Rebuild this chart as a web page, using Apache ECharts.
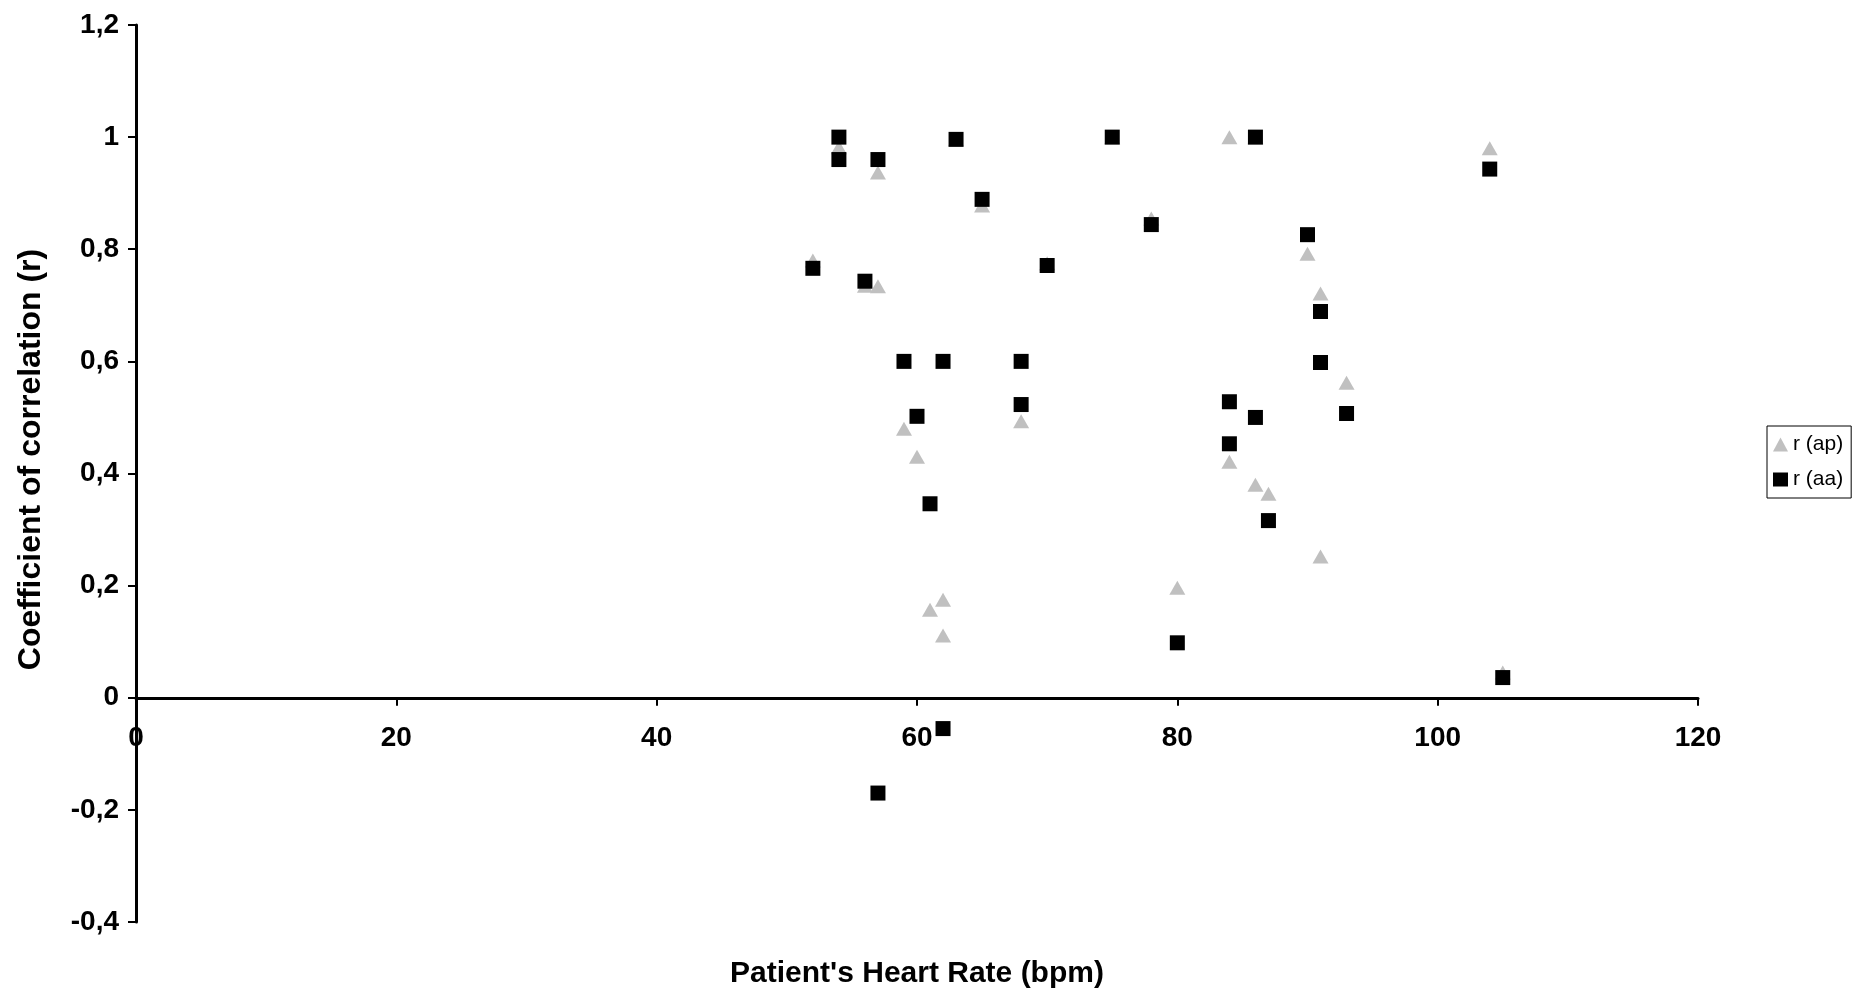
<!DOCTYPE html>
<html>
<head>
<meta charset="utf-8">
<title>Coefficient of correlation vs heart rate</title>
<script src="https://cdn.jsdelivr.net/npm/echarts@6/dist/echarts.min.js"></script>
<style>
  html, body { margin: 0; padding: 0; background: #fff; }
  #main { width: 1865px; height: 1001px; }
</style>
</head>
<body>
<div id="main"></div>
<script>
// r (ap) - grey triangles
const hrAP = [52, 54, 56, 57, 57, 59, 60, 61, 62, 62, 63, 65, 68, 70, 75, 78, 80, 84, 84, 86, 86, 87, 90, 91, 91, 93, 104, 105];
const rAP = [0.78, 0.982, 0.735, 0.937, 0.734, 0.480, 0.430, 0.157, 0.175, 0.111, 0.996, 0.878, 0.493, 0.775, 1.0, 0.855, 0.196, 1.0, 0.421, 1.0, 0.380, 0.364, 0.792, 0.721, 0.252, 0.562, 0.980, 0.045];

// r (aa) - black squares
const hrAA = [52, 54, 54, 56, 57, 57, 59, 60, 61, 62, 62, 63, 65, 68, 68, 70, 75, 78, 80, 84, 84, 86, 86, 87, 90, 91, 91, 93, 104, 105];
const rAA = [0.766, 1.0, 0.960, 0.743, 0.960, -0.170, 0.600, 0.502, 0.346, 0.600, -0.055, 0.996, 0.889, 0.600, 0.523, 0.771, 1.0, 0.844, 0.098, 0.528, 0.453, 1.0, 0.500, 0.316, 0.826, 0.689, 0.598, 0.507, 0.943, 0.036];

const seriesNames = ['r (ap)', 'r (aa)'];

const toPairs = (xs, ys) => xs.map((x, i) => [x, ys[i]]);

const chart = echarts.init(document.getElementById('main'));

const font = 'Liberation Sans, Arial, sans-serif';

// grid box, and where the x axis sits (y = 0)
const gridTop = 25, gridBottom = 79;
const yMin = -0.4, yMax = 1.2;
const plotH = 1001 - gridTop - gridBottom;
const zeroShift = plotH * (0 - yMin) / (yMax - yMin);

const option = {
  animation: false,
  backgroundColor: '#fff',
  grid: {
    left: 136, right: 167, top: gridTop, bottom: gridBottom,
    containLabel: false,
    outerBoundsMode: 'none'
  },
  legend: {
    orient: 'vertical',
    left: 1767,
    top: 426,
    data: seriesNames,
    itemWidth: 15,
    itemHeight: 14,
    itemGap: 14,
    padding: [8, 8, 8, 6],
    borderColor: '#000',
    borderWidth: 1,
    textStyle: { fontFamily: font, fontSize: 21, color: '#000' }
  },
  xAxis: {
    type: 'value',
    min: 0,
    max: 120,
    interval: 20,
    offset: -zeroShift,
    name: "Patient's Heart Rate (bpm)",
    nameLocation: 'middle',
    nameGap: 261,
    nameTextStyle: { fontFamily: font, fontSize: 30, fontWeight: 'bold', color: '#000' },
    axisLine: { onZero: false, lineStyle: { color: '#000', width: 3 } },
    axisTick: { show: true, inside: false, length: 8, lineStyle: { color: '#000', width: 2 } },
    axisLabel: { margin: 27, fontFamily: font, fontSize: 28, fontWeight: 'bold', color: '#000' },
    splitLine: { show: false }
  },
  yAxis: {
    type: 'value',
    min: yMin,
    max: yMax,
    interval: 0.2,
    name: 'Coefficient of correlation (r)',
    nameLocation: 'middle',
    nameGap: 89,
    nameTextStyle: {
      fontFamily: font, fontSize: 32, fontWeight: 'bold', color: '#000',
      padding: [0, 0, 0, 28]
    },
    axisLine: { show: true, onZero: false, lineStyle: { color: '#000', width: 3 } },
    axisTick: { show: true, inside: false, length: 8, lineStyle: { color: '#000', width: 2 } },
    axisLabel: {
      margin: 17,
      fontFamily: font,
      fontSize: 28,
      fontWeight: 'bold',
      color: '#000',
      formatter: v => String(Math.round(v * 10) / 10).replace('.', ',')
    },
    splitLine: { show: false }
  },
  series: [
    {
      name: seriesNames[0],
      type: 'scatter',
      symbol: 'triangle',
      symbolSize: [16, 14],
      itemStyle: { color: '#c0c0c0', opacity: 1 },
      z: 2,
      data: toPairs(hrAP, rAP)
    },
    {
      name: seriesNames[1],
      type: 'scatter',
      symbol: 'rect',
      symbolSize: 15,
      itemStyle: { color: '#000', opacity: 1 },
      z: 3,
      data: toPairs(hrAA, rAA)
    }
  ]
};

chart.setOption(option);
</script>
</body>
</html>
